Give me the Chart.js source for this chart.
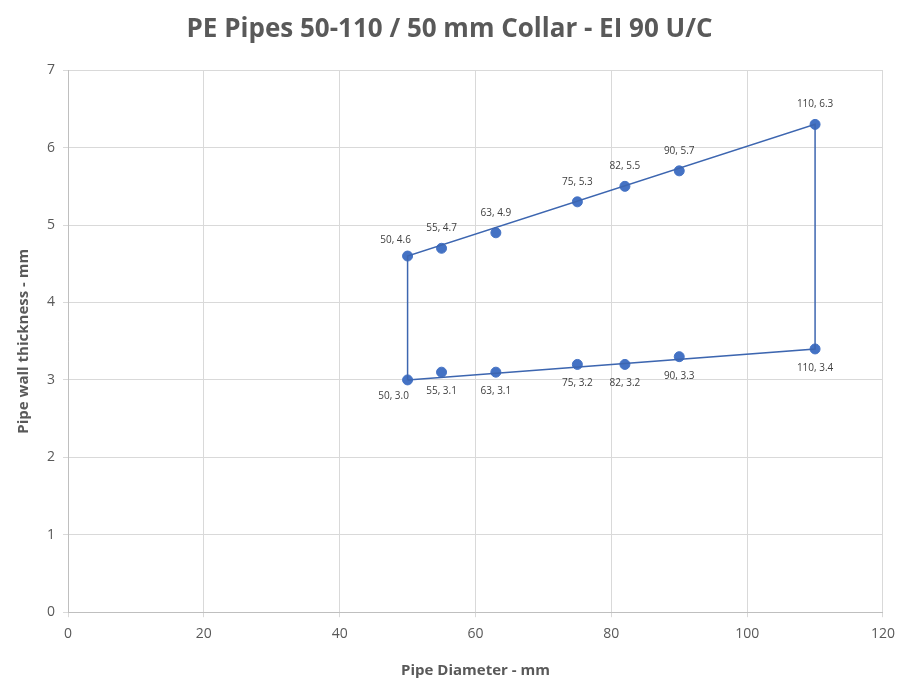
<!DOCTYPE html>
<html>
<head>
<meta charset="utf-8">
<script src="https://cdn.jsdelivr.net/npm/chart.js@4/dist/chart.umd.min.js"></script>
<style>
  html, body { margin: 0; padding: 0; background: #fff; }
  #wrap { width: 903px; height: 680px; }
</style>
</head>
<body>
<div id="wrap"><canvas id="chart"></canvas></div>
<script>
// outline of the envelope (closed)
const outlineX = [50, 110, 110, 50, 50];
const outlineY = [3.0, 3.4, 6.3, 4.6, 3.0];

// tested pipe sizes
const pipeDiameters = [50, 55, 63, 75, 82, 90, 110, 50, 55, 63, 75, 82, 90, 110];
const wallThickness = [3.0, 3.1, 3.1, 3.2, 3.2, 3.3, 3.4, 4.6, 4.7, 4.9, 5.3, 5.5, 5.7, 6.3];
const labelSide = ['below-left', 'below', 'below', 'below', 'below', 'below', 'below',
                   'above-left', 'above', 'above', 'above', 'above', 'above', 'above'];

const xTicks = [0, 20, 40, 60, 80, 100, 120];
const yTicks = [0, 1, 2, 3, 4, 5, 6, 7];

const FONT = "'Open Sans', sans-serif";
const BLUE = '#4472c4';

const pointLabels = {
  id: 'pointLabels',
  afterDatasetsDraw(chart) {
    const ctx = chart.ctx;
    const meta = chart.getDatasetMeta(1);
    ctx.save();
    ctx.font = '10px ' + FONT;
    ctx.fillStyle = '#404040';
    ctx.textAlign = 'center';
    ctx.textBaseline = 'middle';
    meta.data.forEach((pt, i) => {
      const txt = pipeDiameters[i] + ', ' + wallThickness[i].toFixed(1);
      let x = pt.x, y = pt.y;
      const side = labelSide[i];
      if (side === 'below') y += 19;
      if (side === 'above') y -= 20;
      if (side === 'below-left') { y += 16; x -= 14; }
      if (side === 'above-left') { y -= 16; x -= 12; }
      ctx.fillText(txt, x, y);
    });
    ctx.restore();
  }
};

new Chart(document.getElementById('chart'), {
  type: 'scatter',
  data: {
    datasets: [
      {
        label: 'Envelope',
        data: outlineX.map((x, i) => ({ x, y: outlineY[i] })),
        showLine: true,
        borderColor: '#3d66b0',
        borderWidth: 1.5,
        pointRadius: 0,
        fill: false
      },
      {
        label: 'Pipes',
        data: pipeDiameters.map((x, i) => ({ x, y: wallThickness[i] })),
        backgroundColor: BLUE,
        borderColor: BLUE,
        pointRadius: 5,
        showLine: false
      }
    ]
  },
  options: {
    responsive: true,
    maintainAspectRatio: false,
    animation: false,
    layout: { padding: { left: 11, right: 15, top: 10, bottom: 0 } },
    plugins: {
      legend: { display: false },
      tooltip: { enabled: false },
      title: {
        display: true,
        text: 'PE Pipes 50-110 / 50 mm Collar - EI 90 U/C',
        color: '#595959',
        font: { family: FONT, size: 26, weight: 'bold' },
        padding: { top: 4, bottom: 25 }
      }
    },
    scales: {
      x: {
        type: 'linear',
        min: 0, max: 120,
        afterBuildTicks: axis => { axis.ticks = xTicks.map(v => ({ value: v })); },
        grid: { color: '#d9d9d9', tickLength: 5, drawTicks: true },
        border: { color: '#bfbfbf' },
        ticks: { color: '#595959', font: { family: FONT, size: 14 }, padding: 8 },
        title: {
          display: true, text: 'Pipe Diameter - mm', color: '#595959',
          font: { family: FONT, size: 15, weight: 'bold' }, padding: { top: 12, bottom: 0 }
        }
      },
      y: {
        type: 'linear',
        min: 0, max: 7,
        afterBuildTicks: axis => { axis.ticks = yTicks.map(v => ({ value: v })); },
        grid: { color: '#d9d9d9', tickLength: 5, drawTicks: true },
        border: { color: '#bfbfbf' },
        ticks: { color: '#595959', font: { family: FONT, size: 14 }, padding: 8 },
        title: {
          display: true, text: 'Pipe wall thickness - mm', color: '#595959',
          font: { family: FONT, size: 15, weight: 'bold' }, padding: { bottom: 6 }
        }
      }
    }
  },
  plugins: [pointLabels]
});
</script>
</body>
</html>
